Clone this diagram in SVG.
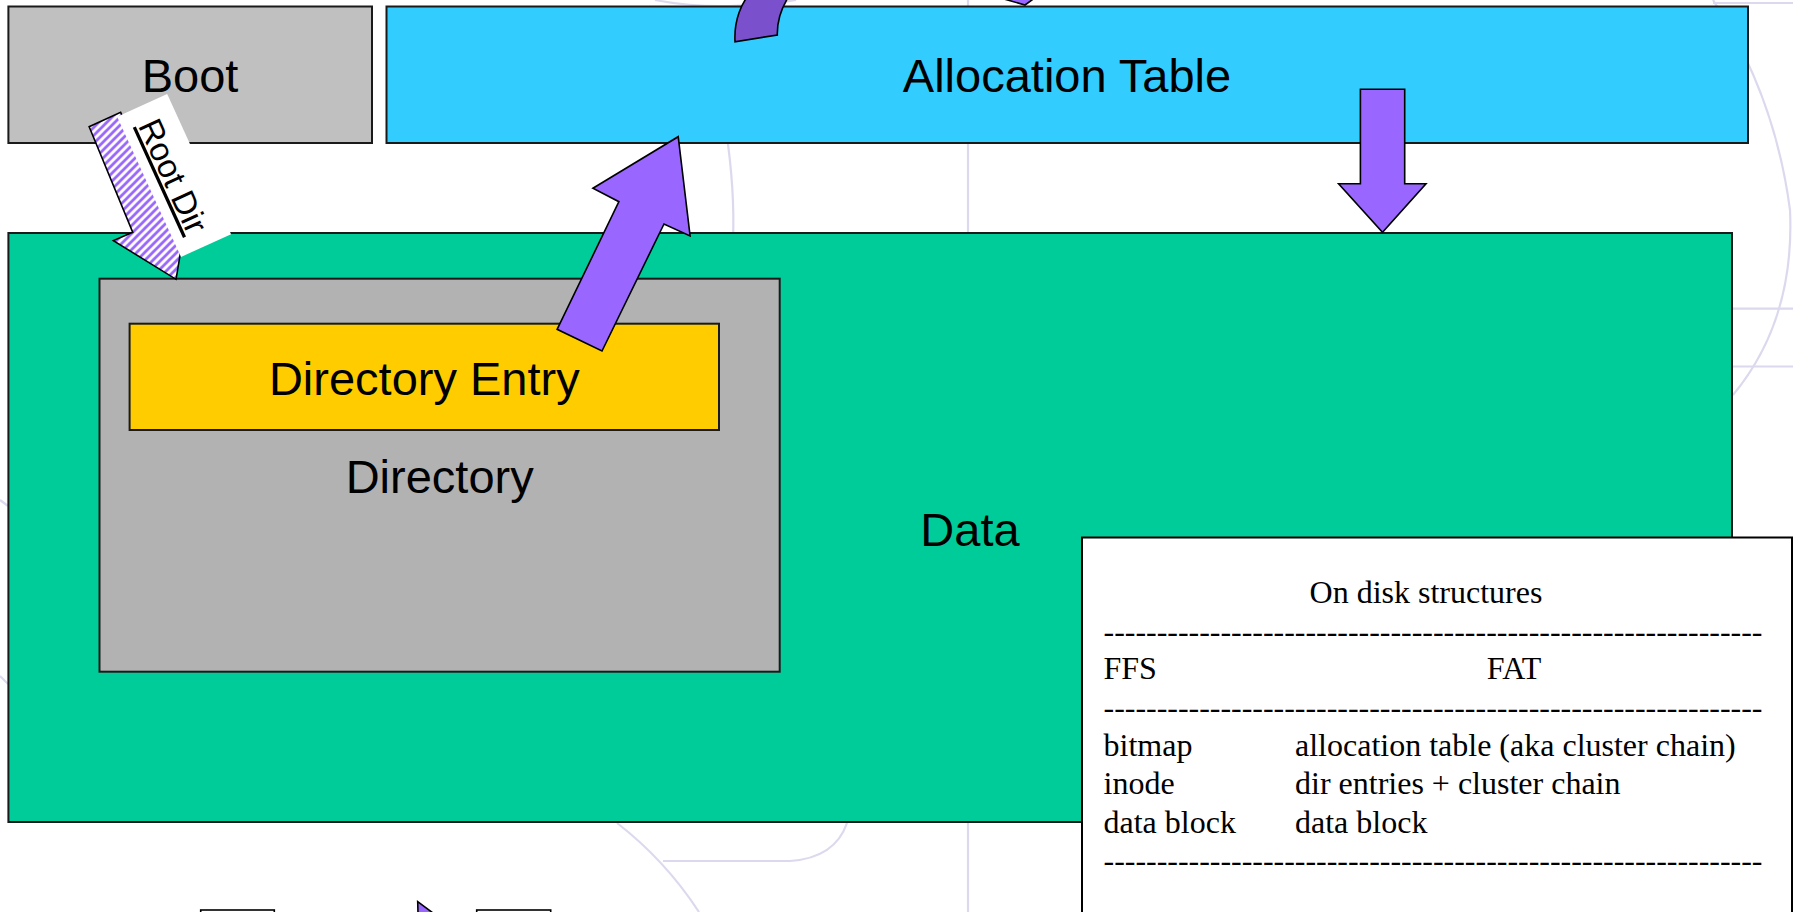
<svg xmlns="http://www.w3.org/2000/svg" width="1793" height="912" viewBox="0 0 1793 912">
  <defs>
    <style>
      .box { stroke: #1a1a1a; stroke-width: 2; }
      .label { font-family: "Liberation Sans", Arial, sans-serif; font-size: 47px; fill: #000; text-anchor: middle; }
      .serif { font-family: "Liberation Serif", "Times New Roman", serif; font-size: 32px; fill: #000; }
      .arrow { fill: #9966FF; stroke: #000; stroke-width: 1.6; stroke-linejoin: miter; }
      .wm { fill: none; stroke: #DCD9EE; stroke-width: 2.2; }
    </style>
    <!-- wide upward diagonal hatch, kept upright on screen -->
    <pattern id="hatch" width="8" height="8" patternUnits="userSpaceOnUse" patternTransform="rotate(-65.5)">
      <rect width="8" height="8" fill="#fff"/>
      <path d="M-2,2 L2,-2 M0,8 L8,0 M6,10 L10,6" stroke="#9966FF" stroke-width="2.8"/>
    </pattern>
  </defs>

  <rect width="1793" height="912" fill="#fff"/>

  <!-- faint template watermark -->
  <g id="watermark" class="wm">
    <path d="M968,0 V912"/>
    <path d="M726,130 Q735,190 733,240"/>
    <path d="M655,0 Q690,7 730,6 Q770,5 796,0"/>
    <path d="M1713,3 L1793,3"/>
    <path d="M1713,0 Q1775,95 1790,210 Q1795,320 1733,395"/>
    <path d="M1732,308.7 H1793 M1732,366.5 H1793"/>
    <path d="M617,823 Q665,860 699,912"/>
    <path d="M663,861 L790,861 Q835,858 847,823"/>
    <path d="M0,500 Q4,503 8,506 M0,676 Q4,680 8,684"/>
  </g>

  <g id="boot">
    <rect class="box" x="8.4" y="6.5" width="363.6" height="136.5" fill="#C0C0C0"/>
    <text class="label" x="190" y="92">Boot</text>
  </g>

  <g id="allocation-table">
    <rect class="box" x="386.5" y="6.5" width="1361.5" height="136.5" fill="#33CCFF"/>
    <text class="label" x="1067" y="92">Allocation Table</text>
  </g>

  <g id="data">
    <rect class="box" x="8.4" y="233" width="1723.6" height="589" fill="#00CC99"/>
    <text class="label" x="970" y="545.5">Data</text>
  </g>

  <g id="directory">
    <rect class="box" x="99.5" y="278.7" width="680.2" height="393" fill="#B2B2B2"/>
    <text class="label" x="439.7" y="493">Directory</text>
  </g>

  <g id="directory-entry">
    <rect class="box" x="129.6" y="323.7" width="589.4" height="106.3" fill="#FFCC00"/>
    <text class="label" x="424.3" y="395">Directory Entry</text>
  </g>

  <g id="connectors">
    <!-- Boot -> Directory: hatched arrow with its label box -->
    <g id="root-dir" transform="translate(167.2,94) rotate(65.5)">
      <polygon points="-2.6,50 111,50 111,27.6 172.3,68.8 111.1,109.8 111.6,88.7 -2.6,84.6" fill="url(#hatch)" stroke="#000" stroke-width="1.6"/>
      <rect x="0" y="0" width="154" height="55" fill="#fff"/>
      <text x="77" y="40" font-family="Liberation Sans, Arial, sans-serif" font-size="33" text-anchor="middle" text-decoration="underline">Root Dir</text>
    </g>
    <!-- Directory Entry -> Allocation Table -->
    <polygon class="arrow" points="557.1,329.3 618.9,201.7 592.9,188.3 678.2,136.7 690.1,236 664,224 602,351"/>
    <!-- Allocation Table -> Data -->
    <polygon class="arrow" points="1360.4,89.3 1404.7,89.3 1404.7,183.7 1426,183.7 1382.5,232.3 1338.6,183.7 1360.4,183.7"/>
    <!-- curved arrow leaving the top edge -->
    <path d="M755,-12 C740,2 734,22 735,41.7 L777.3,35 C777,20 781,5 795,-12 Z" fill="#7A50CC" stroke="#000" stroke-width="1.6"/>
    <path d="M997,-3 L1025,5 L1036,-3 Z" class="arrow"/>
    <!-- arrowhead at the lower edge -->
    <polygon class="arrow" points="417.7,901.7 433,913 418,913"/>
  </g>

  <g id="on-disk-structures">
    <rect x="1082" y="537.5" width="710" height="400" fill="#fff" stroke="#000" stroke-width="2"/>
    <text class="serif" x="1426" y="603" text-anchor="middle">On disk structures</text>
    <text class="serif" x="1103.5" y="641.5" textLength="659" lengthAdjust="spacing">--------------------------------------------------------------</text>
    <text class="serif" x="1103.5" y="679">FFS</text>
    <text class="serif" x="1486.8" y="679">FAT</text>
    <text class="serif" x="1103.5" y="718" textLength="659" lengthAdjust="spacing">--------------------------------------------------------------</text>
    <text class="serif" x="1103.5" y="756">bitmap</text>
    <text class="serif" x="1295" y="756">allocation table (aka cluster chain)</text>
    <text class="serif" x="1103.5" y="794">inode</text>
    <text class="serif" x="1295" y="794">dir entries + cluster chain</text>
    <text class="serif" x="1103.5" y="833">data block</text>
    <text class="serif" x="1295" y="833">data block</text>
    <text class="serif" x="1103.5" y="870.5" textLength="659" lengthAdjust="spacing">--------------------------------------------------------------</text>
  </g>

  <g id="block-a">
    <rect x="200.7" y="910" width="73.6" height="12" fill="#fff" stroke="#000" stroke-width="1.6"/>
  </g>
  <g id="block-b">
    <rect x="476.7" y="910" width="74" height="12" fill="#fff" stroke="#000" stroke-width="1.6"/>
  </g>
</svg>
